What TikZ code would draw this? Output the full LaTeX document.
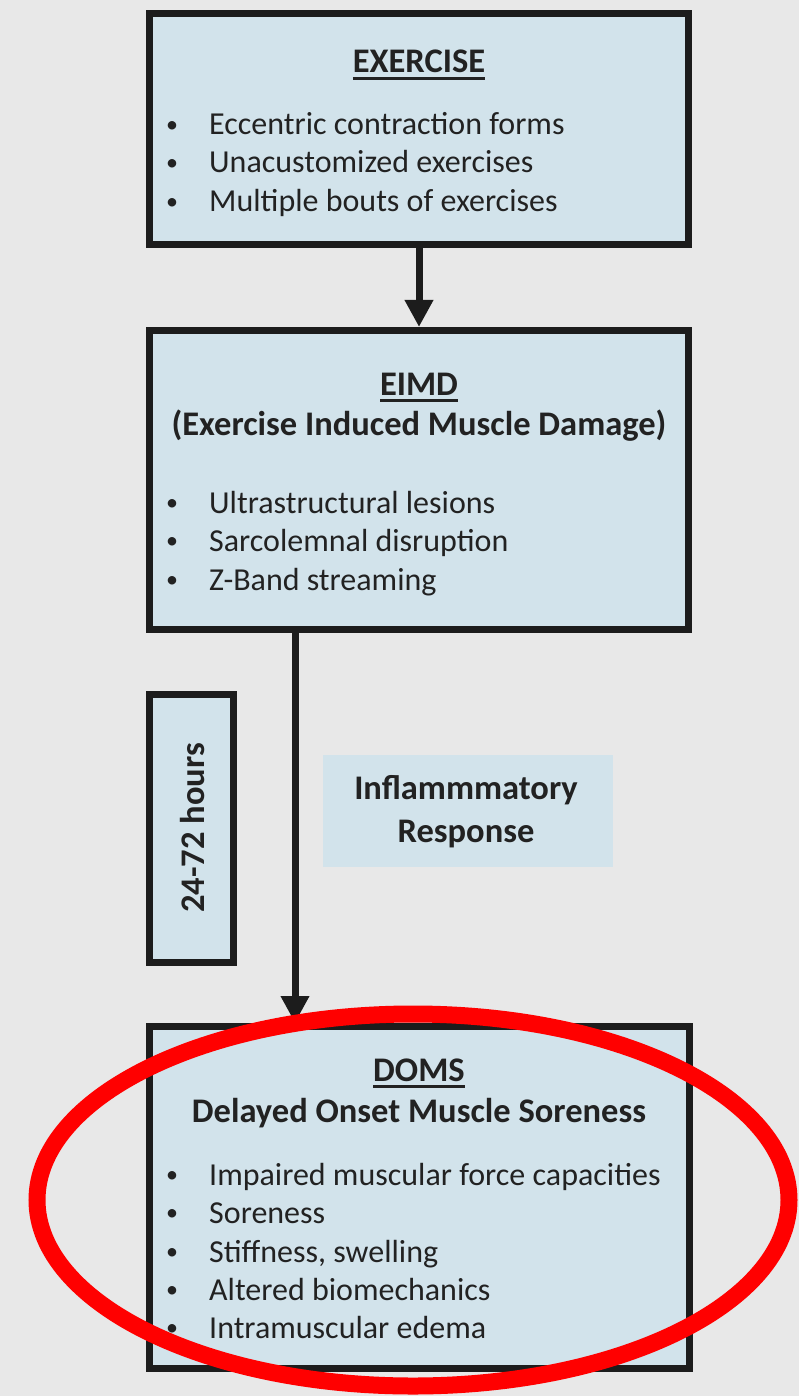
\documentclass[tikz,border=0pt]{standalone}
\usepackage{fontspec}
\setmainfont{Carlito}
\usetikzlibrary{arrows.meta}
\definecolor{bg}{HTML}{E8E8E8}
\definecolor{boxfill}{HTML}{D2E3EB}
\definecolor{ink}{HTML}{1C1C1C}
\definecolor{txt}{HTML}{222222}
\definecolor{ring}{HTML}{FF0000}
\newcommand\myul[1]{\vtop{\hbox{#1}\kern4pt\hrule height 2.5pt}}
\begin{document}
\begin{tikzpicture}[x=1pt,y=-1pt,
  box/.style={draw=ink, fill=boxfill, line width=7pt, rectangle, inner sep=0pt},
  plainbox/.style={fill=boxfill, rectangle, inner sep=0pt},
  title/.style={font=\fontsize{34.5}{42}\selectfont\bfseries, text=txt, anchor=base, inner sep=0pt},
  body/.style={font=\fontsize{32}{39}\selectfont, text=txt, anchor=base west, inner sep=0pt},
  dot/.style={font=\fontsize{24}{30}\selectfont, text=txt, anchor=base, inner sep=0pt, yshift=2.5pt},
  arr/.style={draw=ink, line width=7pt, -{Triangle[length=27pt,width=27pt]}},
]
\useasboundingbox (0,0) rectangle (799,1396);
\fill[bg] (0,0) rectangle (799,1396);

% boxes
\node[box, minimum width=539pt, minimum height=231pt] (ex) at (419,129) {};
\node[box, minimum width=539pt, minimum height=299pt] (eimd) at (419,480) {};
\node[box, minimum width=540pt, minimum height=342pt] (doms) at (419.5,1197.5) {};
\node[box, minimum width=84pt, minimum height=268pt] (hrs) at (191.5,828.5) {};
\node[plainbox, minimum width=290pt, minimum height=112pt] (infl) at (468,811) {};

% EXERCISE
\node[title] (ext) at (419,73) {\myul{EXERCISE}};
\node[dot] (exd1) at (172,135) {•};
\node[dot] (exd2) at (172,173) {•};
\node[dot] (exd3) at (172,212) {•};
\node[body] (exb1) at (209,135) {Eccentric contraction forms};
\node[body] (exb2) at (209,173) {Unacustomized exercises};
\node[body] (exb3) at (209,212) {Multiple bouts of exercises};

% EIMD
\node[title] (eimdt) at (419,395) {\myul{EIMD}};
\node[title] (eimds) at (419,435) {(Exercise Induced Muscle Damage)};
\node[dot] (eid1) at (172,513) {•};
\node[dot] (eid2) at (172,551) {•};
\node[dot] (eid3) at (172,590) {•};
\node[body] (eib1) at (209,513) {Ultrastructural lesions};
\node[body] (eib2) at (209,551) {Sarcolemnal disruption};
\node[body] (eib3) at (209,590) {Z-Band streaming};

% 24-72 hours
\node[title, rotate=90] (hrst) at (204,828) {24-72 hours};

% Inflammatory
\node[title] (inf1) at (466,799) {Inflammmatory};
\node[title] (inf2) at (466,842) {Response};

% DOMS
\node[title] (domst) at (419,1081) {\myul{DOMS}};
\node[title] (domss) at (419,1122) {Delayed Onset Muscle Soreness};
\node[dot] (dd1) at (172,1185) {•};
\node[dot] (dd2) at (172,1223) {•};
\node[dot] (dd3) at (172,1262) {•};
\node[dot] (dd4) at (172,1300) {•};
\node[dot] (dd5) at (172,1338) {•};
\node[body] (db1) at (209,1185) {Impaired muscular force capacities};
\node[body] (db2) at (209,1223) {Soreness};
\node[body] (db3) at (209,1262) {Stiffness, swelling};
\node[body] (db4) at (209,1300) {Altered biomechanics};
\node[body] (db5) at (209,1338) {Intramuscular edema};

% connectors
\draw[arr] (ex.south) -- (eimd.north);
\draw[arr] ([xshift=-124pt]eimd.south) -- ([xshift=-124.5pt]doms.north);

% red ring
\draw[ring, line width=17pt] (413,1200) ellipse [x radius=376pt, y radius=186pt];
\end{tikzpicture}
\end{document}
